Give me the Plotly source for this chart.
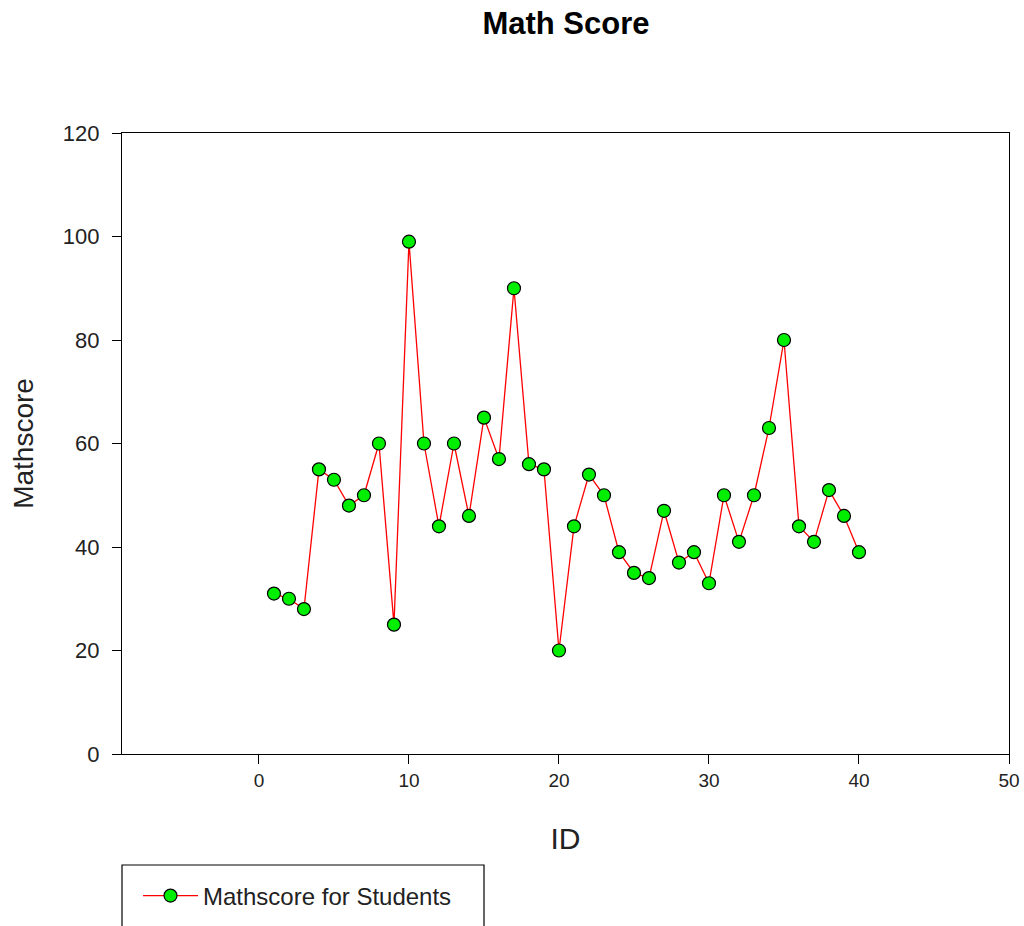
import plotly.graph_objects as go

# Data
student_ids = list(range(1, 41))
math_scores = [31, 30, 28, 55, 53, 48, 50, 60, 25, 99,
               60, 44, 60, 46, 65, 57, 90, 56, 55, 20,
               44, 54, 50, 39, 35, 34, 47, 37, 39, 33,
               50, 41, 50, 63, 80, 44, 41, 51, 46, 39]
x_ticks = [0, 10, 20, 30, 40, 50]
y_ticks = [0, 20, 40, 60, 80, 100, 120]

W, H = 1024, 926
L, R, T, B = 122, 15, 133, 172
PW, PH = W - L - R, H - T - B
BOTTOM = H - B  # pixel row of the x axis


def py(pix):
    # pixel row -> paper y
    return (BOTTOM - pix) / PH


def px(pix):
    # pixel column -> paper x
    return (pix - L) / PW


fig = go.Figure()

fig.add_trace(go.Scatter(
    x=student_ids,
    y=math_scores,
    mode='lines+markers',
    name='Mathscore for Students',
    line=dict(color='#ff0000', width=1.3),
    marker=dict(color='#00ee00', size=13, line=dict(color='black', width=1.2)),
))

fig.update_layout(
    width=W, height=H,
    margin=dict(l=L, r=R, t=T, b=B, autoexpand=False),
    plot_bgcolor='white',
    paper_bgcolor='white',
    font=dict(family='Liberation Sans, Arial, sans-serif', color='#222222'),
    title=dict(text='<b>Math Score</b>', x=566 / W, xanchor='center',
               y=1 - 23 / H, yanchor='middle',
               font=dict(size=31, color='black')),
    showlegend=True,
    legend=dict(
        x=px(138), xanchor='left',
        y=py(896), yanchor='middle',
        bgcolor='rgba(0,0,0,0)', borderwidth=0,
        itemwidth=55,
        font=dict(size=24, color='#222222'),
    ),
)

# legend frame, running past the bottom edge like the reference
fig.add_shape(type='rect', xref='paper', yref='paper',
              x0=0, x1=px(484), y0=py(950), y1=py(865),
              line=dict(color='black', width=1.2), fillcolor='rgba(0,0,0,0)')

fig.update_xaxes(
    range=[-9.13, 50], tickvals=x_ticks, automargin=False,
    showgrid=False, zeroline=False,
    showline=True, linecolor='black', linewidth=1.2, mirror=True,
    ticks='outside', ticklen=9, tickcolor='black', tickwidth=1.2,
    tickfont=dict(size=19),
    title=dict(text='ID', font=dict(size=30), standoff=38),
)
fig.update_yaxes(
    range=[0, 120], tickvals=y_ticks, automargin=False,
    showgrid=False, zeroline=False,
    showline=True, linecolor='black', linewidth=1.2, mirror=True,
    ticks='outside', ticklen=9, tickcolor='black', tickwidth=1.2,
    ticklabelstandoff=8,
    tickfont=dict(size=22),
    title=dict(text='Mathscore', font=dict(size=28), standoff=20),
)

# drop the default 8px body margin so the figure fills the window exactly
fig.write_html("out.html", config={'displayModeBar': False},
               post_script="document.body.style.margin='0';")
